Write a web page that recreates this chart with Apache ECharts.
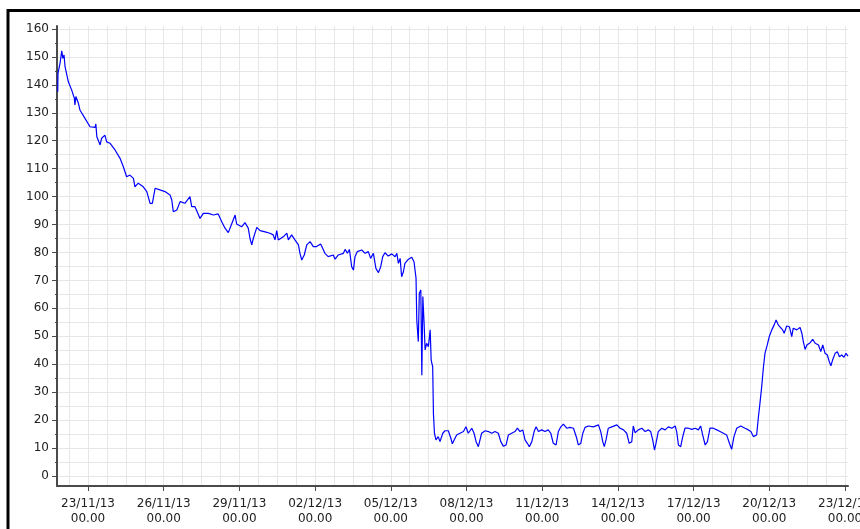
<!DOCTYPE html>
<html>
<head>
<meta charset="utf-8">
<script src="https://cdn.jsdelivr.net/npm/echarts@6/dist/echarts.min.js"></script>
<style>
html,body{margin:0;padding:0;background:#fff;}
#chart{width:860px;height:529px;}
</style>
</head>
<body>
<div id="chart"></div>
<script>
// Time in days relative to 23/11/13 00.00
const days = [
-1.20,-1.19,-1.11,-1.04,-1.00,-0.95,-0.91,-0.78,-0.65,-0.54,-0.52,-0.48,-0.38,-0.32,-0.12,
0.08,0.28,0.31,0.35,0.48,0.54,0.67,0.74,0.87,1.07,1.27,1.40,1.53,1.66,1.80,1.86,1.99,
2.19,2.33,2.46,2.55,2.66,2.85,3.05,3.25,3.32,3.38,3.52,3.65,3.84,4.04,4.11,4.24,4.44,
4.57,4.77,4.97,5.16,5.30,5.43,5.56,5.70,5.83,5.89,6.09,6.22,6.35,6.42,6.49,6.55,6.69,
6.82,7.02,7.21,7.34,7.41,7.48,7.54,7.74,7.88,7.94,8.07,8.20,8.34,8.40,8.47,8.57,8.67,
8.80,8.93,9.06,9.22,9.30,9.39,9.52,9.72,9.79,9.92,10.12,10.19,10.28,10.36,10.45,10.52,
10.58,10.67,10.85,10.98,11.11,11.20,11.31,11.41,11.51,11.60,11.68,11.77,11.90,12.04,
12.17,12.24,12.30,12.37,12.43,12.50,12.56,12.70,12.83,12.92,13.00,13.03,13.09,13.13,
13.19,13.23,13.27,13.32,13.36,13.42,13.49,13.56,13.60,13.66,13.69,13.73,13.79,13.88,
13.95,14.06,14.15,14.28,14.38,14.44,14.51,14.61,14.74,14.88,14.98,15.07,15.21,15.30,
15.38,15.47,15.54,15.60,15.74,15.87,16.00,16.13,16.26,16.36,16.46,16.57,16.66,16.79,
16.92,17.02,17.12,17.23,17.32,17.41,17.49,17.59,17.68,17.76,17.85,17.98,18.11,18.24,
18.34,18.44,18.55,18.64,18.74,18.84,18.97,19.10,19.24,19.30,19.37,19.43,19.53,19.61,
19.70,19.83,20.03,20.23,20.32,20.40,20.46,20.53,20.62,20.76,20.96,21.09,21.22,21.35,
21.45,21.55,21.61,21.68,21.81,21.95,22.08,22.21,22.30,22.38,22.45,22.51,22.60,22.74,
22.87,23.00,23.14,23.27,23.33,23.40,23.49,23.57,23.66,23.79,23.93,24.06,24.19,24.28,
24.36,24.46,24.55,24.65,24.78,24.92,25.05,25.18,25.31,25.42,25.51,25.60,25.71,25.87,
26.04,26.17,26.27,26.37,26.44,26.50,26.57,26.63,26.70,26.77,26.83,26.92,27.00,27.10,
27.19,27.27,27.36,27.43,27.53,27.59,27.69,27.80,27.89,27.95,28.09,28.22,28.29,28.35,
28.42,28.49,28.62,28.72,28.82,28.95,29.04,29.12,29.21,29.30,29.38,29.44,29.52,29.61,
29.70,29.78,29.87,29.96,30.04,30.12
];
const values = [
137.5,144.1,147.7,152.2,149.5,150.7,146.5,141.1,138.2,135.2,132.8,135.8,133.4,131.0,128.0,
125.0,124.8,126.0,121.4,118.5,120.9,122.0,119.6,119.1,116.7,113.7,110.7,107.1,107.7,106.5,103.5,104.8,
103.5,101.8,97.6,97.6,103.0,102.4,101.8,100.6,98.8,94.6,95.2,98.2,97.6,100.0,96.4,96.4,92.2,
94.0,94.0,93.4,93.8,91.0,88.7,87.1,90.4,93.4,90.2,89.2,90.7,88.7,85.0,82.7,85.0,89.0,
87.8,87.4,86.9,86.3,84.5,87.8,84.5,85.6,86.9,84.5,86.3,84.5,82.7,79.7,77.3,79.1,82.7,
83.9,82.1,82.1,83.0,81.5,79.7,78.5,79.1,77.6,79.1,79.7,81.1,79.7,81.1,74.9,73.7,
78.5,80.3,80.9,79.7,80.3,77.9,79.7,74.3,72.8,74.9,78.5,79.9,78.7,79.5,
78.5,79.7,76.1,77.9,71.3,73.1,76.1,77.6,78.3,76.7,70.8,55.8,48.1,65.4,
66.6,36.1,64.2,54.7,45.1,47.5,46.3,52.3,41.5,39.1,22.4,15.3,12.9,14.1,
12.3,15.3,16.2,16.2,13.5,11.5,12.9,14.7,15.3,15.9,17.6,15.3,17.1,15.3,
12.3,10.5,10.7,15.3,16.2,15.9,15.3,15.9,15.3,12.3,10.7,11.1,14.7,15.3,
15.9,17.1,15.9,16.5,12.9,11.7,10.5,12.3,15.9,17.6,15.9,16.5,15.9,16.5,
15.3,11.7,11.1,15.9,17.6,18.6,17.1,17.4,17.1,17.6,13.5,11.1,11.7,15.3,
17.4,17.9,17.6,18.3,15.9,12.3,10.5,12.9,17.1,17.6,18.3,17.1,16.5,15.3,
11.7,12.3,17.9,15.5,16.5,17.1,15.9,16.5,15.9,12.9,9.3,11.7,15.9,17.1,
16.5,17.6,17.1,17.9,15.9,11.1,10.5,14.1,17.1,17.1,16.7,17.1,16.5,17.9,
14.7,11.1,12.3,17.1,17.1,16.5,15.9,15.3,14.7,11.7,9.6,14.1,17.1,17.9,
17.1,16.5,15.9,14.1,13.5,14.7,21.2,26.0,32.0,39.1,43.9,46.9,49.9,52.3,
54.0,55.8,54.0,53.4,52.3,51.1,53.7,53.4,49.9,52.9,52.3,53.2,51.1,48.1,
45.3,46.9,47.7,48.9,47.5,46.9,44.5,46.9,43.9,43.3,40.9,39.4,41.8,43.9,
44.5,42.7,43.3,42.5,43.9,42.9
];

// Axis ticks / labels
const xMajorDays = [0, 3, 6, 9, 12, 15, 18, 21, 24, 27, 30];
const xMajorLabels = ['23/11/13','26/11/13','29/11/13','02/12/13','05/12/13','08/12/13',
                      '11/12/13','14/12/13','17/12/13','20/12/13','23/12/13'];
const xGridDays = [];
for (let d = -0.75; d <= 30.001; d += 0.75) xGridDays.push(Math.round(d * 100) / 100);
const yMajorTicks = [0,10,20,30,40,50,60,70,80,90,100,110,120,130,140,150,160];
const yGridTicks = [0,5,10,15,20,25,30,35,40,45,50,55,60,65,70,75,80,85,90,95,100,105,110,115,120,125,130,135,140,145,150,155,160];

const X_MIN = -1.229, X_MAX = 30.12;
const Y_MIN = -3.58, Y_MAX = 161.06;

const font = 'DejaVu Sans';
const axisColor = '#4a4a4a';
const gridColor = '#e6e6e6';

const chart = echarts.init(document.getElementById('chart'), null, {renderer: 'canvas'});
chart.setOption({
  animation: false,
  backgroundColor: '#ffffff',
  grid: {left: 57, right: 12, top: 26, bottom: 43, containLabel: false, outerBoundsMode: 'none'},
  xAxis: [
    {
      type: 'value', min: X_MIN, max: X_MAX, position: 'bottom',
      axisLine: {show: true, onZero: false, lineStyle: {color: axisColor, width: 2}},
      axisTick: {show: false, customValues: xGridDays},
      axisLabel: {show: false},
      splitLine: {show: true, lineStyle: {color: gridColor, width: 1}}
    },
    {
      type: 'value', min: X_MIN, max: X_MAX, position: 'bottom',
      axisLine: {show: false, onZero: false},
      axisTick: {show: true, length: 5, customValues: xMajorDays, lineStyle: {color: axisColor, width: 1}},
      axisLabel: {
        show: true, customValues: xMajorDays, margin: 10, hideOverlap: false,
        color: '#222', fontFamily: font, fontSize: 12, lineHeight: 15,
        formatter: function (v) {
          const i = xMajorDays.indexOf(Math.round(v));
          return (i >= 0 ? xMajorLabels[i] : '') + '\n00.00';
        }
      },
      splitLine: {show: false}
    }
  ],
  yAxis: [
    {
      type: 'value', min: Y_MIN, max: Y_MAX, position: 'left',
      axisLine: {show: true, onZero: false, lineStyle: {color: axisColor, width: 2}},
      axisTick: {show: true, length: 2, customValues: yGridTicks, lineStyle: {color: axisColor, width: 1}},
      axisLabel: {show: false},
      splitLine: {show: true, lineStyle: {color: gridColor, width: 1}}
    },
    {
      type: 'value', min: Y_MIN, max: Y_MAX, position: 'left',
      axisLine: {show: false, onZero: false},
      axisTick: {show: true, length: 5, customValues: yMajorTicks, lineStyle: {color: axisColor, width: 1}},
      axisLabel: {show: true, customValues: yMajorTicks, margin: 8, color: '#222', fontFamily: font, fontSize: 12},
      splitLine: {show: false}
    }
  ],
  graphic: [
    {
      type: 'rect', silent: true, z: 100,
      shape: {x: 8, y: 10.5, width: 1000, height: 1000},
      style: {fill: null, stroke: '#000', lineWidth: 3}
    }
  ],
  series: [
    {
      type: 'line', xAxisIndex: 0, yAxisIndex: 0,
      data: days.map((d, i) => [d, values[i]]),
      showSymbol: false, symbol: 'none',
      lineStyle: {color: '#0000ff', width: 1.2},
      itemStyle: {color: '#0000ff'},
      silent: true
    }
  ]
});
</script>
</body>
</html>
